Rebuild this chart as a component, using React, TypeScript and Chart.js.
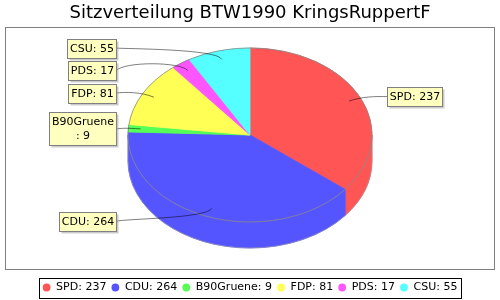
import React, { useEffect, useRef } from 'react';
import { Chart, registerables } from 'chart.js';

Chart.register(...registerables);

// ---- data ----
const TITLE = 'Sitzverteilung BTW1990 KringsRuppertF';
const categories = ['SPD', 'CDU', 'B90Gruene', 'FDP', 'PDS', 'CSU'];
const seats = [237, 264, 9, 81, 17, 55];
const colors = ['#FF5555', '#5555FF', '#55FF55', '#FFFF55', '#FF55FF', '#55FFFF'];

// ---- layout / style ----
const FONT = "'DejaVu Sans', sans-serif";
const PIE_R = 122;
const PIE_CY = 135;
const SQUASH = 87 / 122;
const DEPTH = 26;
const PLOT = { x: 5.5, y: 27.5, w: 489, h: 242 };
const MAX_LABEL_W = 68;
const LINE_H = 14;
const LABEL_GAP = 3.5;

const pie3d = {
  id: 'pie3d',
  beforeDraw(chart: any) {
    const ctx = chart.ctx;
    ctx.save();
    ctx.fillStyle = '#ffffff';
    ctx.fillRect(0, 0, chart.width, chart.height);
    ctx.strokeStyle = '#808080';
    ctx.lineWidth = 1;
    ctx.strokeRect(PLOT.x, PLOT.y, PLOT.w, PLOT.h);
    ctx.restore();
  },
  beforeDatasetsDraw(chart: any) {
    const ctx = chart.ctx;
    const arcs = chart.getDatasetMeta(0).data as any[];
    const cx = arcs[0].x, cy = arcs[0].y, R = arcs[0].outerRadius;
    const ry = R * SQUASH;
    ctx.save();
    arcs.forEach((arc: any, i: number) => {
      const s = Math.max(arc.startAngle, 0);
      const e = Math.min(arc.endAngle, Math.PI);
      if (e <= s) return;
      ctx.beginPath();
      ctx.ellipse(cx, PIE_CY, R, ry, 0, s, e, false);
      ctx.ellipse(cx, PIE_CY + DEPTH, R, ry, 0, e, s, true);
      ctx.closePath();
      ctx.fillStyle = colors[i];
      ctx.fill();
      ctx.strokeStyle = colors[i];
      ctx.lineWidth = 0.8;
      ctx.stroke();
    });
    ctx.beginPath();
    ctx.moveTo(cx + R, PIE_CY);
    ctx.lineTo(cx + R, PIE_CY + DEPTH);
    ctx.ellipse(cx, PIE_CY + DEPTH, R, ry, 0, 0, Math.PI, false);
    ctx.lineTo(cx - R, PIE_CY);
    ctx.strokeStyle = '#999999';
    ctx.lineWidth = 0.6;
    ctx.stroke();
    ctx.restore();

    ctx.save();
    ctx.translate(0, PIE_CY);
    ctx.scale(1, SQUASH);
    ctx.translate(0, -cy);
  },
  afterDatasetsDraw(chart: any) {
    const ctx = chart.ctx;
    ctx.restore();
    const arcs = chart.getDatasetMeta(0).data as any[];
    const cx = arcs[0].x, R = arcs[0].outerRadius;
    const ry = R * SQUASH;
    ctx.save();
    ctx.beginPath();
    ctx.ellipse(cx, PIE_CY, R, ry, 0, 0, Math.PI * 2);
    ctx.strokeStyle = '#888888';
    ctx.lineWidth = 0.8;
    ctx.stroke();

    ctx.font = `11px ${FONT}`;
    const recs = arcs.map((arc: any, i: number) => {
      const mid = (arc.startAngle + arc.endAngle) / 2;
      const c = Math.cos(mid), s = Math.sin(mid);
      const full = `${categories[i]}: ${seats[i]}`;
      const lines = ctx.measureText(full).width > MAX_LABEL_W ? [categories[i], `: ${seats[i]}`] : [full];
      const w = Math.max(...lines.map((l) => ctx.measureText(l).width)) + 5;
      const h = lines.length * LINE_H + 5;
      return { i, c, s, left: c < 0, lines, w, h, y: PIE_CY + 1 + (ry + 4) * s };
    });
    [true, false].forEach((side) => {
      const g = recs.filter((r) => r.left === side).sort((a, b) => a.y - b.y);
      let prevBottom = -Infinity;
      g.forEach((r) => {
        if (r.y - r.h / 2 < prevBottom + LABEL_GAP) r.y = prevBottom + LABEL_GAP + r.h / 2;
        prevBottom = r.y + r.h / 2;
      });
    });

    recs.forEach((r) => {
      const linkX = cx + r.c * R * 0.9, linkY = PIE_CY + r.s * ry * 0.9;
      const elbowX = cx + r.c * R * 1.025, elbowY = PIE_CY + r.s * ry * 1.025;
      const anchorX = r.left ? cx - R * 1.025 : cx + R * 1.025;
      const targetX = r.left ? cx - R - 12 : cx + R + 15;
      ctx.beginPath();
      ctx.moveTo(targetX, r.y);
      ctx.bezierCurveTo(anchorX, elbowY, elbowX, elbowY, linkX, linkY);
      ctx.strokeStyle = '#000000';
      ctx.lineWidth = 0.5;
      ctx.stroke();

      const bx = Math.round(r.left ? targetX - r.w : targetX) + 0.5;
      const by = Math.round(r.y - r.h / 2) + 0.5;
      const bw = Math.round(r.w), bh = Math.round(r.h);
      ctx.fillStyle = 'rgba(151,151,151,0.5)';
      ctx.fillRect(bx + 2, by + 2, bw, bh);
      ctx.fillStyle = '#FFFFC0';
      ctx.fillRect(bx, by, bw, bh);
      ctx.strokeStyle = '#808080';
      ctx.lineWidth = 1;
      ctx.strokeRect(bx, by, bw, bh);
      ctx.fillStyle = '#000000';
      ctx.textAlign = 'center';
      ctx.textBaseline = 'middle';
      const tx = bx + bw / 2;
      const ty0 = by + bh / 2 - ((r.lines.length - 1) * LINE_H) / 2;
      r.lines.forEach((l, k) => ctx.fillText(l, tx, ty0 + k * LINE_H));
    });
    ctx.restore();
  },
  afterDraw(chart: any) {
    const ctx = chart.ctx;
    const hb = chart.legend?.legendHitBoxes as any[];
    if (!hb || !hb.length) return;
    const minX = Math.min(...hb.map((h) => h.left));
    const maxX = Math.max(...hb.map((h) => h.left + h.width));
    const top = hb[0].top;
    ctx.save();
    ctx.strokeStyle = '#000000';
    ctx.lineWidth = 1;
    ctx.strokeRect(Math.round(minX - 4) + 0.5, Math.round(top - 4) + 0.5, Math.round(maxX - minX + 7), 20);
    ctx.restore();
  },
};

export default function App() {
  const ref = useRef<HTMLCanvasElement | null>(null);
  useEffect(() => {
    if (!ref.current) return;
    const chart = new Chart(ref.current, {
      type: 'pie',
      data: {
        labels: categories,
        datasets: [
          {
            data: seats,
            backgroundColor: colors,
            borderColor: colors,
            borderWidth: 1,
            radius: PIE_R,
            clip: false,
          } as any,
        ],
      },
      options: {
        responsive: false,
        animation: false,
        events: [],
        layout: { padding: { top: 0, bottom: -3, left: 0, right: 0 } },
        plugins: {
          tooltip: { enabled: false },
          title: {
            display: true,
            text: TITLE,
            color: '#000000',
            font: { family: FONT, size: 18, weight: 'normal', lineHeight: 1.2 },
            padding: { top: 3, bottom: 4 },
          },
          legend: {
            position: 'bottom',
            labels: {
              usePointStyle: true,
              boxWidth: 8,
              boxHeight: 5.5,
              padding: 5,
              color: '#000000',
              font: { family: FONT, size: 11 },
              generateLabels: () =>
                categories.map((c, i) => ({
                  text: `${c}: ${seats[i]}`,
                  fillStyle: colors[i],
                  strokeStyle: colors[i],
                  lineWidth: 0,
                  pointStyle: 'circle',
                  hidden: false,
                  index: i,
                })),
            },
          },
        },
      } as any,
      plugins: [pie3d],
    });
    return () => chart.destroy();
  }, []);
  return (
    <div style={{ position: 'absolute', left: 0, top: 0, width: 500, height: 300 }}>
      <canvas ref={ref} width={500} height={300} />
    </div>
  );
}
